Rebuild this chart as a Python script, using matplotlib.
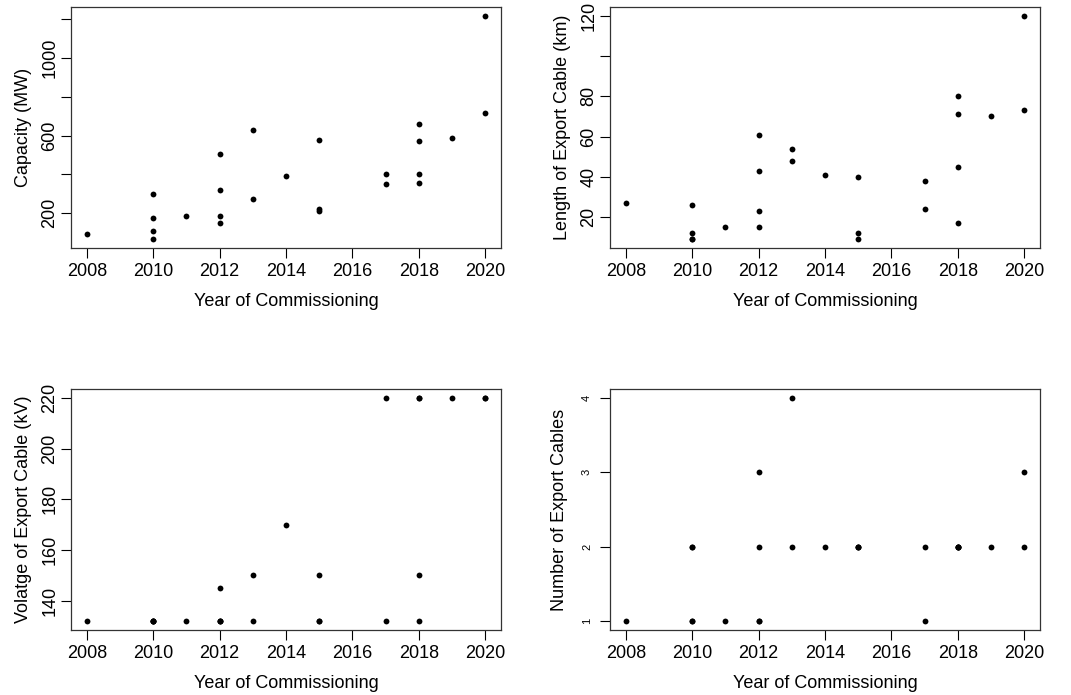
import matplotlib
matplotlib.use("Agg")
import matplotlib.pyplot as plt

plt.rcParams['font.family'] = ['Liberation Sans', 'DejaVu Sans']

# one entry per wind farm
years = [2008,
         2010, 2010, 2010, 2010,
         2011,
         2012, 2012, 2012, 2012,
         2013, 2013,
         2014,
         2015, 2015, 2015,
         2017, 2017,
         2018, 2018, 2018, 2018,
         2019,
         2020, 2020]
capacity = [90,
            300, 174, 110, 66,
            184,
            503, 317, 184, 150,
            631, 271,
            390,
            576, 219, 210,
            403, 348,
            659, 574, 400, 353,
            588,
            1217, 714]
cable_length = [27,
                26, 12, 9, 9,
                15,
                61, 43, 23, 15,
                54, 48,
                41,
                40, 12, 9,
                38, 24,
                80, 71, 45, 17,
                70,
                120, 73]
voltage = [132,
           132, 132, 132, 132,
           132,
           145, 132, 132, 132,
           150, 132,
           170,
           150, 132, 132,
           220, 132,
           220, 220, 150, 132,
           220,
           220, 220]
n_cables = [1,
            2, 2, 1, 1,
            1,
            3, 2, 1, 1,
            4, 2,
            2,
            2, 2, 2,
            2, 1,
            2, 2, 2, 2,
            2,
            3, 2]

x_ticks = [2008, 2010, 2012, 2014, 2016, 2018, 2020]

panels = [
    (capacity, "Capacity (MW)", [200, 400, 600, 800, 1000, 1200],
     ["200", "", "600", "", "1000", ""], 13, 2, 7, (71, 7)),
    (cable_length, "Length of Export Cable (km)", [20, 40, 60, 80, 100, 120],
     ["20", "40", "60", "80", "", "120"], 13, 2, 7, (610, 7)),
    (voltage, "Volatge of Export Cable (kV)", [140, 160, 180, 200, 220],
     ["140", "160", "180", "200", "220"], 13, 2, 7, (71, 389)),
    (n_cables, "Number of Export Cables", [1, 2, 3, 4],
     ["1", "2", "3", "4"], 8, 6, 10, (610, 389)),
]

W, H = 1071, 695
fig = plt.figure(figsize=(W / 100, H / 100), dpi=100)

for values, ylabel, yticks, ylabels, ysize, ypad, ylpad, (left, top) in panels:
    w, h = 430, 241
    ax = fig.add_axes([left / W, 1 - (top + h) / H, w / W, h / H])
    ax.plot(years, values, 'o', color='black', ms=4.2, mew=0)

    # axis limits padded by 4% of the data range
    lo, hi = min(values), max(values)
    pad = (hi - lo) * 0.04
    ax.set_ylim(lo - pad, hi + pad)
    ax.set_xlim(2008 - 0.48, 2020 + 0.48)

    ax.set_xticks(x_ticks)
    ax.set_xticklabels([str(t) for t in x_ticks], fontsize=13)
    ax.set_yticks(yticks)
    ax.set_yticklabels(ylabels, fontsize=ysize, rotation=90, va='center')
    ax.tick_params(length=7, width=0.8, pad=4, colors='black')
    ax.tick_params(axis='y', pad=ypad)

    for sp in ax.spines.values():
        sp.set_linewidth(0.9)
        sp.set_color('#333333')

    ax.set_xlabel("Year of Commissioning", fontsize=13, labelpad=9)
    ax.set_ylabel(ylabel, fontsize=13, labelpad=ylpad)

fig.savefig("out.png", dpi=100)
